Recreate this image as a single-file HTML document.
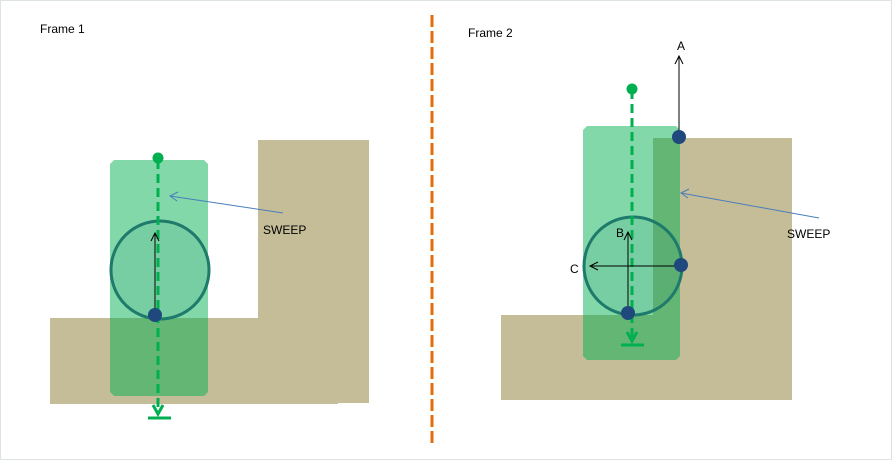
<!DOCTYPE html>
<html><head><meta charset="utf-8"><style>
html,body{margin:0;padding:0;background:#fff}
svg{display:block}
text{font-family:"Liberation Sans",Arial,sans-serif;fill:#000}
</style></head><body>
<svg width="892" height="460" viewBox="0 0 892 460" xmlns="http://www.w3.org/2000/svg">
<rect x="0.5" y="0.5" width="891" height="459" fill="#fff" stroke="#dde2e2"/>
<text x="40" y="33" font-size="12">Frame 1</text>
<text x="468" y="37" font-size="12">Frame 2</text>
<line x1="432" y1="15" x2="432" y2="445" stroke="#e46c0a" stroke-width="3" stroke-dasharray="12,4"/>

<!-- Frame 1 -->
<polygon points="258,140 369,140 369,403 338,403 338,404 50,404 50,318 258,318" fill="#c4bd98"/>
<polygon points="114,160 204,160 208,164 208,392 204,396 114,396 110,392 110,164" fill="#00b050" fill-opacity="0.49"/>
<circle cx="160" cy="270" r="49" fill="#1e7a6a" fill-opacity="0.1" stroke="#1e7a6a" stroke-width="3"/>
<line x1="158" y1="160" x2="158" y2="410" stroke="#00b050" stroke-width="3" stroke-dasharray="9,5"/>
<circle cx="158" cy="158" r="5.5" fill="#00b050"/>
<polyline points="153,405 158,414 163,405" fill="none" stroke="#00b050" stroke-width="3"/>
<line x1="148" y1="418" x2="171" y2="418" stroke="#00b050" stroke-width="3"/>
<line x1="155" y1="315" x2="155" y2="233" stroke="#000" stroke-width="1"/>
<polyline points="151,241 155,233 159,241" fill="none" stroke="#000" stroke-width="1"/>
<circle cx="155" cy="315" r="7" fill="#1f497d"/>
<line x1="283" y1="213" x2="170" y2="196" stroke="#4a7ebb" stroke-width="1"/>
<polyline points="178,192 170,196 177,201" fill="none" stroke="#4a7ebb" stroke-width="1"/>
<text x="263" y="234" font-size="12">SWEEP</text>

<!-- Frame 2 -->
<polygon points="653,138 792,138 792,400 501,400 501,315 653,315" fill="#c4bd98"/>
<polygon points="587,126 676,126 680,130 680,356 676,360 587,360 583,356 583,130" fill="#00b050" fill-opacity="0.49"/>
<circle cx="633" cy="266" r="49" fill="#1e7a6a" fill-opacity="0.1" stroke="#1e7a6a" stroke-width="3"/>
<line x1="632" y1="90" x2="632" y2="338" stroke="#00b050" stroke-width="3" stroke-dasharray="9,5"/>
<circle cx="632" cy="89" r="5.5" fill="#00b050"/>
<polyline points="627,332 632,341 637,332" fill="none" stroke="#00b050" stroke-width="3"/>
<line x1="621" y1="345" x2="644" y2="345" stroke="#00b050" stroke-width="3"/>
<line x1="679" y1="137" x2="679" y2="56" stroke="#000" stroke-width="1"/>
<polyline points="675,64 679,56 683,64" fill="none" stroke="#000" stroke-width="1"/>
<text x="677" y="50" font-size="12">A</text>
<line x1="628" y1="313" x2="628" y2="232" stroke="#000" stroke-width="1"/>
<polyline points="624,240 628,232 632,240" fill="none" stroke="#000" stroke-width="1"/>
<text x="616" y="237" font-size="12">B</text>
<line x1="681" y1="266" x2="590" y2="266" stroke="#000" stroke-width="1"/>
<polyline points="598,262 590,266 598,270" fill="none" stroke="#000" stroke-width="1"/>
<text x="570" y="273" font-size="12">C</text>
<circle cx="679" cy="137" r="7" fill="#1f497d"/>
<circle cx="681" cy="265" r="7" fill="#1f497d"/>
<circle cx="628" cy="313" r="7" fill="#1f497d"/>
<line x1="819" y1="218" x2="681" y2="193" stroke="#4a7ebb" stroke-width="1"/>
<polyline points="689,189 681,193 688,198" fill="none" stroke="#4a7ebb" stroke-width="1"/>
<text x="787" y="238" font-size="12">SWEEP</text>
</svg>
</body></html>
